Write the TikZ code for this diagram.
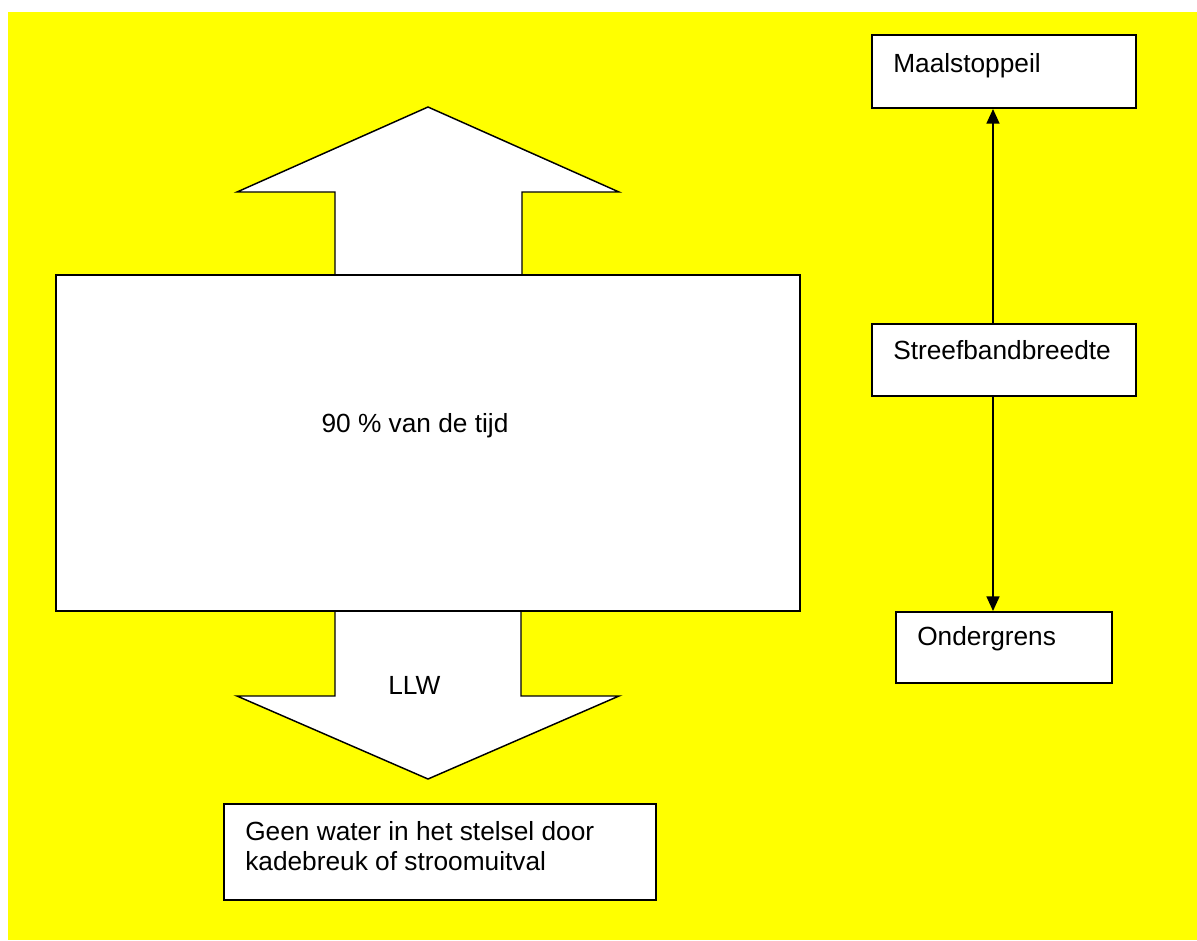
\documentclass[tikz,border=0pt]{standalone}
\usepackage{fontspec}
\setmainfont{Liberation Sans}
\usetikzlibrary{arrows.meta}
\definecolor{bgyellow}{RGB}{255,255,0}
\tikzset{
  box/.style={draw=black, line width=1.5pt, fill=white, rectangle, inner sep=0pt},
  lbl/.style={inner sep=0pt, anchor=base west, font=\fontsize{19.7pt}{22.5pt}\selectfont},
  bigarrow/.style={draw=black, line width=1.1pt, fill=white, line join=miter},
  conn/.style={draw=black, line width=1.2pt, -{Triangle[length=11pt, width=9.75pt]}}
}
\begin{document}
\begin{tikzpicture}[x=0.75pt, y=-0.75pt]
\useasboundingbox (0,0) rectangle (1197,940);
\fill[bgyellow] (8,12) rectangle (1197,940);
% big arrows
\draw[bigarrow] (335,275) -- (335,192) -- (237,192) -- (428,107) -- (619,192) -- (522,192) -- (522,275) -- cycle;
\draw[bigarrow] (335,611) -- (335,696) -- (237,696) -- (428,779) -- (619,696) -- (521,696) -- (521,611) -- cycle;
% main box
\node[box, minimum width=558pt, minimum height=252pt] (main) at (428,443) {};
\node[lbl, anchor=base] (pct) at (415,432) {90 \% van de tijd};
\node[lbl] (llw) at (388,694) {LLW};
% bottom box
\node[box, minimum width=324pt, minimum height=72pt] (gw) at (440,852) {};
\node[lbl] (gw1) at (245,840) {Geen water in het stelsel door};
\node[lbl] (gw2) at (245,870) {kadebreuk of stroomuitval};
% right boxes
\node[box, minimum width=198pt, minimum height=54.75pt] (ms) at (1004,71.5) {};
\node[lbl] (mst) at (893,72) {Maalstoppeil};
\node[box, minimum width=198pt, minimum height=54pt] (sb) at (1004,360) {};
\node[lbl] (sbt) at (893,359) {Streefbandbreedte};
\node[box, minimum width=162pt, minimum height=53.25pt] (og) at (1004,647.5) {};
\node[lbl] (ogt) at (917,645) {Ondergrens};
\coordinate (lx) at (993,0);
\draw[conn] (sb.north -| lx) -- (ms.south -| lx);
\draw[conn] (sb.south -| lx) -- (og.north -| lx);
\end{tikzpicture}
\end{document}
